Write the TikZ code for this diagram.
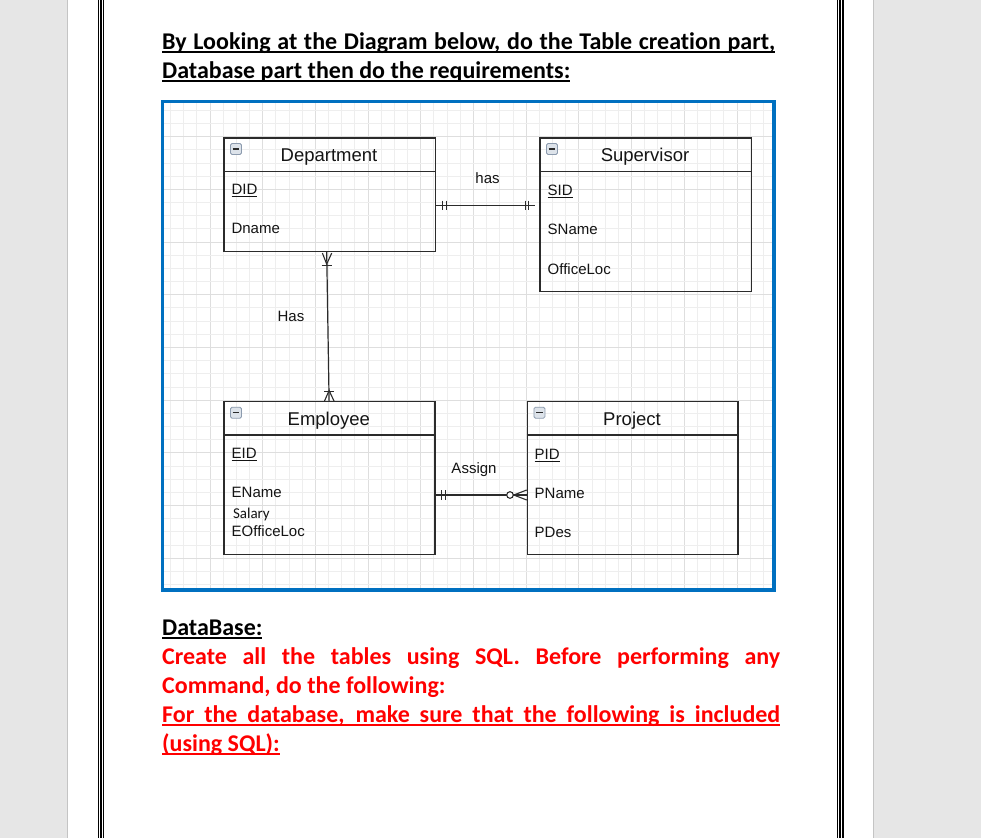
\documentclass[tikz,border=0pt]{standalone}
\usepackage{fontspec}
\setmainfont{Carlito}[Ligatures=NoCommon]
\newfontfamily\erfont{Liberation Sans}
\definecolor{pagegray}{HTML}{E6E6E6}
\definecolor{edgegray}{HTML}{C4C4C4}
\definecolor{wordblue}{HTML}{0070C0}
\definecolor{gridminor}{HTML}{EEEEEE}
\definecolor{gridmajor}{HTML}{DEDEDE}
\definecolor{erline}{HTML}{2B2B2B}
\definecolor{redtext}{HTML}{FF0000}
\definecolor{iconfill}{HTML}{DDE3EA}
\definecolor{icondraw}{HTML}{8C9BAE}
\newcommand\myul[1]{\setbox0=\hbox{#1}\rlap{\rule[-3.5pt]{\wd0}{2pt}}\box0}
\newcommand\myulthin[1]{\setbox0=\hbox{#1}\rlap{\rule[-2.4pt]{\wd0}{0.9pt}}\box0}
\begin{document}
\begin{tikzpicture}[x=1pt,y=-1pt,
  headtext/.style={anchor=base west, inner sep=0pt, font=\fontsize{24}{29}\selectfont\bfseries},
  redline/.style={headtext, text=redtext},
  entbox/.style={draw=erline, line width=1.4pt, inner sep=0pt, anchor=north west},
  divider/.style={draw=erline, line width=1.4pt},
  enttitle/.style={anchor=base, inner sep=0pt, font=\fontsize{18.5}{21}\selectfont\erfont, text=black!92},
  attr/.style={anchor=base west, inner sep=0pt, font=\fontsize{15}{18}\selectfont\erfont, text=black!92},
  rellabel/.style={anchor=base, inner sep=0pt, font=\fontsize{15}{18}\selectfont\erfont, text=black!92},
  conn/.style={draw=erline, line width=1.2pt},
  endmark/.style={draw=erline, line width=1.1pt},
  minusicon/.style={draw=icondraw, fill=iconfill, rounded corners=1.5pt, minimum width=11pt, minimum height=11pt, inner sep=0pt, line width=0.8pt}
]
\useasboundingbox (0,0) rectangle (981,838);
% page background
\fill[pagegray] (0,0) rectangle (981,838);
\fill[white] (68,0) rectangle (873,838);
\draw[edgegray, line width=1pt] (67.5,0) -- (67.5,838);
\draw[edgegray, line width=1pt] (873.5,0) -- (873.5,838);
% triple page border lines
\draw[black, line width=1.3pt] (98.2,0) -- (98.2,838);
\draw[black, line width=1.9pt] (100.8,0) -- (100.8,838);
\draw[black, line width=1.3pt] (103.3,0) -- (103.3,838);
\draw[black, line width=1.3pt] (837.8,0) -- (837.8,838);
\draw[black, line width=1.9pt] (840.4,0) -- (840.4,838);
\draw[black, line width=1.3pt] (842.9,0) -- (842.9,838);

% heading
\node[headtext] (h1) at (162,49) {\myul{\makebox[613pt][s]{By Looking at the Diagram below, do the Table creation part,}}};
\node[headtext] (h2) at (162,78) {\myul{Database part then do the requirements:}};

% diagram grid
\begin{scope}
\clip (164,103) rectangle (773,588);
\foreach \i in {-3,...,43}{
  \pgfmathsetmacro{\gx}{210+13.175*\i}
  \pgfmathtruncatemacro{\md}{mod(\i+40,4)}
  \ifnum\md=0
    \draw[gridmajor, line width=1pt] (\gx,100) -- (\gx,592);
  \else
    \draw[gridminor, line width=1pt] (\gx,100) -- (\gx,592);
  \fi
}
\foreach \j in {-3,...,35}{
  \pgfmathsetmacro{\gy}{136.7+13.175*\j}
  \pgfmathtruncatemacro{\md}{mod(\j+40,4)}
  \ifnum\md=0
    \draw[gridmajor, line width=1pt] (160,\gy) -- (778,\gy);
  \else
    \draw[gridminor, line width=1pt] (160,\gy) -- (778,\gy);
  \fi
}
\end{scope}
\draw[wordblue, line width=3.5pt] (162.5,101.5) rectangle (774.2,590);

% entities
\node[entbox, minimum width=211.4pt, minimum height=113.4pt] (dept) at (223.3,137.3) {};
\node[entbox, minimum width=211.7pt, minimum height=153.4pt] (sup) at (539.3,137.3) {};
\node[entbox, minimum width=211pt, minimum height=153pt] (emp) at (223.3,401) {};
\node[entbox, minimum width=210.6pt, minimum height=153pt] (proj) at (526.7,401) {};

\draw[divider] ([shift={(0,34.4)}]dept.north west) -- ([shift={(0,34.4)}]dept.north east);
\draw[divider] ([shift={(0,34.4)}]sup.north west) -- ([shift={(0,34.4)}]sup.north east);
\draw[divider] ([shift={(0,34)}]emp.north west) -- ([shift={(0,34)}]emp.north east);
\draw[divider] ([shift={(0,34)}]proj.north west) -- ([shift={(0,34)}]proj.north east);

% minus icons
\foreach \e in {dept,sup,emp,proj}{
  \node[minusicon] (icon-\e) at ([shift={(12.7,11.7)}]\e.north west) {};
  \draw[erline, line width=1.4pt] ([shift={(-3.3,0)}]icon-\e.center) -- ([shift={(3.3,0)}]icon-\e.center);
}

% titles
\node[enttitle] (tdept) at (329,161.7) {Department};
\node[enttitle] (tsup) at (645,161.7) {Supervisor};
\node[enttitle] (temp) at (328.8,425) {Employee};
\node[enttitle] (tproj) at (632,425) {Project};

% attributes
\node[attr] (did) at (231.3,194.8) {\myulthin{DID}};
\node[attr] (dname) at (231.3,233.8) {Dname};
\node[attr] (sid) at (547.5,195.5) {\myulthin{SID}};
\node[attr] (sname) at (547.5,234.7) {SName};
\node[attr] (sloc) at (547.5,274) {OfficeLoc};
\node[attr] (eid) at (231.5,458.3) {\myulthin{EID}};
\node[attr] (ename) at (231.5,497.3) {EName};
\node[anchor=base west, inner sep=0pt, font=\fontsize{15}{18}\selectfont, text=black!92] (salary) at (232.8,518.3) {Salary};
\node[attr] (eloc) at (231.5,536.7) {EOfficeLoc};
\node[attr] (pid) at (534.5,459) {\myulthin{PID}};
\node[attr] (pname) at (534.5,498) {PName};
\node[attr] (pdes) at (534.5,537.3) {PDes};

% relationship labels
\node[rellabel] (lhas) at (487.5,183.3) {has};
\node[rellabel] (lHas) at (291,321.7) {Has};
\node[rellabel] (lassign) at (474,473) {Assign};

% connector Department -- Supervisor (one and only one both sides)
\coordinate (hasend) at ([shift={(-4,68)}]sup.north west);
\draw[conn] ([shift={(0,68)}]dept.north east) -- (hasend);
\draw[endmark] ([shift={(6,63.3)}]dept.north east) -- ++(0,9.4);
\draw[endmark] ([shift={(10,63.3)}]dept.north east) -- ++(0,9.4);
\draw[endmark] ([shift={(-14.2,63.3)}]sup.north west) -- ++(0,9.4);
\draw[endmark] ([shift={(-10.8,63.3)}]sup.north west) -- ++(0,9.4);

% connector Department -- Employee (one to many)
\draw[conn] ([shift={(-3,0)}]dept.south) -- ([shift={(-0.4,0)}]emp.north);
\draw[endmark] ([shift={(-7.3,1)}]dept.south) -- ([shift={(-3,12)}]dept.south) -- ([shift={(2,1)}]dept.south);
\draw[endmark] ([shift={(-8,13.3)}]dept.south) -- ([shift={(2.3,13.3)}]dept.south);
\draw[endmark] ([shift={(-5,0)}]emp.north) -- ([shift={(-0.4,-10.5)}]emp.north) -- ([shift={(4.5,0)}]emp.north);
\draw[endmark] ([shift={(-5.4,-9.5)}]emp.north) -- ([shift={(4.6,-9.5)}]emp.north);

% connector Employee -- Project (one to zero-or-many)
\draw[conn] ([shift={(0,94)}]emp.north east) -- ([shift={(-20,94)}]proj.north west);
\draw[endmark] ([shift={(5.7,89.3)}]emp.north east) -- ++(0,9.4);
\draw[endmark] ([shift={(9.7,89.3)}]emp.north east) -- ++(0,9.4);
\draw[endmark, fill=white] ([shift={(-16.7,94)}]proj.north west) circle (3.3pt);
\draw[endmark] ([shift={(0,89)}]proj.north west) -- ([shift={(-13,94)}]proj.north west) -- ([shift={(0,99)}]proj.north west);
\draw[endmark] ([shift={(-13.4,94)}]proj.north west) -- ([shift={(0,94)}]proj.north west);

% bottom text
\node[headtext] (db) at (162,635) {\myul{DataBase:}};
\node[redline] (r1) at (162,664.5) {\makebox[618pt][s]{Create all the tables using SQL. Before performing any}};
\node[redline] (r2) at (162,693.5) {Command, do the following:};
\node[redline] (r3) at (162,722.5) {\myul{\makebox[618pt][s]{For the database, make sure that the following is included}}};
\node[redline] (r4) at (162,751.5) {\myul{(using SQL):}};
\end{tikzpicture}
\end{document}
